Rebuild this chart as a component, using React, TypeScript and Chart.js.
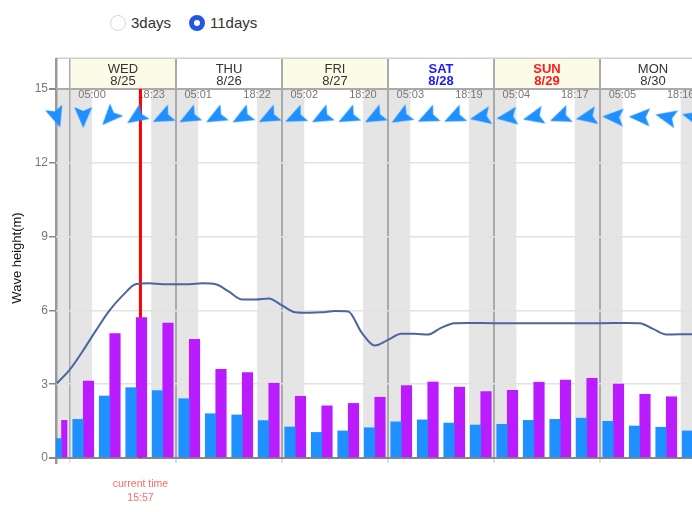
import { useEffect, useRef } from 'react';
import { Chart, registerables } from 'chart.js';

Chart.register(...registerables);

const FONT = '"Liberation Sans", Arial, sans-serif';

// hours are counted from WED 00:00
const dayNames = ['WED', 'THU', 'FRI', 'SAT', 'SUN', 'MON'];
const dayDates = ['8/25', '8/26', '8/27', '8/28', '8/29', '8/30'];
const dayColors = ['#333', '#333', '#333', '#1a1aff', '#ff1a1a', '#333'];
const sunrises = ['05:00', '05:01', '05:02', '05:03', '05:04', '05:05'];
const sunsets = ['18:23', '18:22', '18:20', '18:19', '18:17', '18:16'];
const currentTime = '15:57';

const xMin = -3.17;
const xMax = 140.83;

// the first group is squeezed against the left edge of the plot
const barHours = [
  -1.92, 3, 9, 15, 21, 27, 33, 39, 45, 51, 57, 63, 69, 75, 81, 87, 93, 99, 105, 111, 117, 123, 129, 135, 141,
];
const blueBars = [
  0.79, 1.57, 2.52, 2.86, 2.74, 2.41, 1.8, 1.75, 1.52, 1.26, 1.04, 1.1, 1.23, 1.47, 1.55, 1.42, 1.34, 1.37, 1.53,
  1.57, 1.62, 1.49, 1.3, 1.25, 1.1,
];
const purpleBars = [
  1.53, 3.13, 5.06, 5.71, 5.48, 4.82, 3.6, 3.47, 3.04, 2.51, 2.12, 2.22, 2.47, 2.94, 3.09, 2.88, 2.7, 2.75, 3.08,
  3.17, 3.24, 3.0, 2.59, 2.49, 2.22,
];

const lineHours = [
  -3, 0, 3, 6, 9, 12, 15, 18, 21, 24, 27, 30, 33, 36, 39, 42, 45, 48, 51, 54, 57, 60, 63, 66, 69, 72, 75, 78, 81, 84,
  87, 90, 96, 102, 108, 114, 120, 126, 129, 132, 135, 138, 141,
];
const lineValues = [
  3.03, 3.6, 4.38, 5.22, 6.01, 6.62, 7.07, 7.1, 7.06, 7.06, 7.06, 7.1, 7.06, 6.76, 6.44, 6.44, 6.48, 6.2, 5.92, 5.9,
  5.92, 5.98, 5.96, 5.11, 4.57, 4.8, 5.05, 5.05, 5.02, 5.29, 5.48, 5.49, 5.48, 5.48, 5.48, 5.48, 5.48, 5.49, 5.48,
  5.25, 5.02, 5.03, 5.03,
];

const arrowHours = [
  -3, 3, 9, 15, 21, 27, 33, 39, 45, 51, 57, 63, 69, 75, 81, 87, 93, 99, 105, 111, 117, 123, 129, 135, 141,
];
const arrowDegrees = [
  162, 180, 223, 236, 244, 242, 242, 241, 243, 245, 242, 243, 242, 240, 245, 245, 259, 262, 257, 249, 259, 273, 272,
  283, 285,
];
const arrowLevel = 13.86;

const toHours = (t: string) => {
  const [h, m] = t.split(':').map(Number);
  return h + m / 60;
};

const makeArrow = () => {
  const c = document.createElement('canvas');
  c.width = 28;
  c.height = 28;
  const ctx = c.getContext('2d')!;
  ctx.translate(14, 14);
  ctx.fillStyle = '#1e90ff';
  ctx.beginPath();
  ctx.moveTo(0, -11);
  ctx.lineTo(9, 10);
  ctx.lineTo(0, 6);
  ctx.lineTo(-9, 10);
  ctx.closePath();
  ctx.fill();
  return c;
};

// narrows the two bars of the first group
const firstGroup = {
  id: 'firstGroup',
  afterDatasetsUpdate(chart: any) {
    const center = chart.scales.x.getPixelForValue(barHours[0]);
    const narrow = 5.5;
    const blue = chart.getDatasetMeta(2).data[0];
    const purple = chart.getDatasetMeta(3).data[0];
    blue.x = center - narrow / 2;
    blue.width = narrow;
    purple.x = center + narrow / 2;
    purple.width = narrow;
  },
};

const backdrop = {
  id: 'backdrop',
  beforeDraw(chart: any) {
    const { ctx, chartArea, scales } = chart;
    const x = scales.x;
    ctx.save();
    ctx.fillStyle = '#e5e5e5';
    const band = (from: number, to: number) => {
      const a = x.getPixelForValue(from);
      ctx.fillRect(a, chartArea.top, x.getPixelForValue(to) - a, chartArea.bottom - chartArea.top);
    };
    band(xMin, 0);
    dayNames.forEach((_, i) => {
      band(i * 24, i * 24 + toHours(sunrises[i]));
      band(i * 24 + toHours(sunsets[i]), i * 24 + 24);
    });

    // day header row
    ctx.textAlign = 'center';
    ctx.textBaseline = 'middle';
    dayNames.forEach((name, i) => {
      const a = x.getPixelForValue(i * 24);
      const b = x.getPixelForValue(i * 24 + 24);
      if (i % 2 === 0) {
        ctx.fillStyle = '#fcfbe8';
        ctx.fillRect(a, 59, b - a, chartArea.top - 59);
      }
      ctx.fillStyle = dayColors[i];
      ctx.font = `${name === 'SAT' || name === 'SUN' ? 'bold ' : ''}13px ${FONT}`;
      ctx.fillText(name, (a + b) / 2, 69);
      ctx.fillText(dayDates[i], (a + b) / 2, 81.5);
      ctx.fillStyle = '#aaa';
      ctx.fillRect(a - 1, 58, i === 0 ? 1.5 : 2, chartArea.top - 58);
    });
    ctx.fillStyle = '#d0d0d0';
    ctx.fillRect(chartArea.left, 57.5, chartArea.right - chartArea.left, 1.5);

    // left edge
    ctx.fillStyle = '#999';
    ctx.fillRect(chartArea.left - 1, 58, 2.5, 406);

    // y title
    ctx.save();
    ctx.translate(17, 258);
    ctx.rotate(-Math.PI / 2);
    ctx.fillStyle = '#111';
    ctx.font = `13px ${FONT}`;
    ctx.fillText('Wave height(m)', 0, 0);
    ctx.restore();
    ctx.restore();
  },
  beforeDatasetsDraw(chart: any) {
    const { ctx, chartArea, scales } = chart;
    const x = scales.x;
    ctx.save();
    ctx.textAlign = 'center';
    ctx.textBaseline = 'middle';
    ctx.font = `11px ${FONT}`;
    ctx.fillStyle = '#777';
    dayNames.forEach((_, i) => {
      ctx.fillText(sunrises[i], x.getPixelForValue(i * 24 + toHours(sunrises[i])), 95);
      ctx.fillText(sunsets[i], x.getPixelForValue(i * 24 + toHours(sunsets[i])), 95);
    });

    // current time marker
    const now = x.getPixelForValue(toHours(currentTime));
    ctx.fillStyle = '#ff0000';
    ctx.fillRect(now - 1.5, chartArea.top, 3, chartArea.bottom - chartArea.top);
    ctx.font = `10.5px ${FONT}`;
    ctx.fillStyle = '#ff6a6a';
    ctx.fillText('current time', now, 484);
    ctx.fillText(currentTime, now, 498);
    ctx.restore();
  },
};

const App = () => {
  const canvasRef = useRef<HTMLCanvasElement | null>(null);

  useEffect(() => {
    if (!canvasRef.current) return;
    const arrow = makeArrow();

    const chart = new Chart(canvasRef.current, {
      type: 'bar',
      plugins: [backdrop, firstGroup],
      data: {
        datasets: [
          {
            type: 'line',
            label: 'Wind direction',
            data: arrowHours.map((h) => ({ x: h, y: arrowLevel })),
            showLine: false,
            pointStyle: arrow,
            pointRadius: 10,
            pointRotation: arrowDegrees,
            clip: false,
            order: 0,
          },
          {
            type: 'line',
            label: 'Wave height',
            data: lineHours.map((h, i) => ({ x: h, y: lineValues[i] })),
            borderColor: '#4a65a0',
            borderWidth: 2,
            pointRadius: 0,
            cubicInterpolationMode: 'monotone',
            order: 1,
          },
          {
            label: 'Blue',
            data: barHours.map((h, i) => ({ x: h, y: blueBars[i] })),
            backgroundColor: '#1e90ff',
            barThickness: 10.5,
            order: 2,
          },
          {
            label: 'Purple',
            data: barHours.map((h, i) => ({ x: h, y: purpleBars[i] })),
            backgroundColor: '#bb1cff',
            barThickness: 10.5,
            order: 2,
          },
        ],
      } as any,
      options: {
        responsive: false,
        animation: false,
        layout: { autoPadding: false, padding: { top: 89, right: 0, left: 0, bottom: 0 } },
        plugins: { legend: { display: false }, tooltip: { enabled: false } },
        scales: {
          x: {
            type: 'linear',
            min: xMin,
            max: xMax,
            offset: false,
            afterBuildTicks: (scale: any) => {
              scale.ticks = dayNames.map((_, i) => ({ value: i * 24 }));
            },
            afterFit: (scale: any) => {
              scale.height = 54;
            },
            border: { display: false },
            grid: {
              offset: false,
              color: '#aaa',
              lineWidth: (c: any) => (c.tick.value === 0 ? 1.5 : 2),
              tickColor: '#ddd',
              tickLength: 5,
            },
            ticks: { display: false },
          },
          y: {
            min: 0,
            max: 15,
            afterFit: (scale: any) => {
              scale.width = 56;
            },
            border: { display: false },
            grid: {
              color: (c: any) => (c.tick.value === 0 ? '#888' : c.tick.value === 15 ? '#aaa' : '#e2e2e2'),
              lineWidth: (c: any) => (c.tick.value === 0 || c.tick.value === 15 ? 2 : 1.5),
              tickColor: '#888',
              tickLength: 7,
            },
            ticks: {
              stepSize: 3,
              padding: 1,
              color: '#777',
              font: { family: FONT, size: 12 },
            },
          },
        },
      } as any,
    });

    return () => chart.destroy();
  }, []);

  const radioBase = {
    position: 'absolute',
    appearance: 'none',
    boxSizing: 'border-box',
    borderRadius: '50%',
    width: 16,
    height: 16,
    margin: 0,
    top: 15,
    background: '#fff',
  } as const;
  const labelStyle = {
    position: 'absolute',
    top: 14,
    font: `15px ${FONT}`,
    color: '#333',
    lineHeight: '17px',
  } as const;

  return (
    <div style={{ position: 'fixed', left: 0, top: 0, width: 692, height: 512, overflow: 'hidden', background: '#fff' }}>
      <input type="radio" name="range" style={{ ...radioBase, left: 110, border: '1.5px solid #d5d5e0' }} />
      <span style={{ ...labelStyle, left: 131 }}>3days</span>
      <input type="radio" name="range" defaultChecked style={{ ...radioBase, left: 189, border: '5px solid #2458e0' }} />
      <span style={{ ...labelStyle, left: 210 }}>11days</span>
      <canvas ref={canvasRef} width={692} height={512} style={{ position: 'absolute', left: 0, top: 0 }} />
      <span
        style={{ position: 'absolute', left: 592, top: 510, font: `11px ${FONT}`, color: '#333', whiteSpace: 'nowrap' }}
      >
        ©2021
      </span>
    </div>
  );
};

export default App;
